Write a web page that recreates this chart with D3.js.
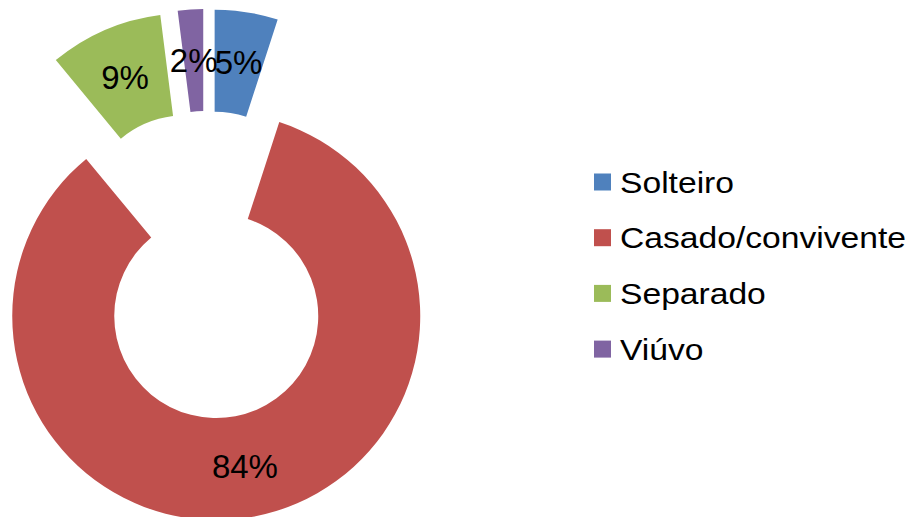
<!DOCTYPE html>
<html>
<head>
<meta charset="utf-8">
<script src="https://cdn.jsdelivr.net/npm/d3@7"></script>
<style>
  body { margin: 0; background: #fff; }
  svg text { font-family: "Liberation Sans", Arial, sans-serif; fill: #000; }
</style>
</head>
<body>
<script>
// estado civil - exploded doughnut
var categories = ["Solteiro", "Casado/convivente", "Separado", "Viúvo"];
var values = [5, 84, 9, 2];
var colors = ["#4F81BD", "#C0504D", "#9BBB59", "#8064A2"];

var data = categories.map(function(c, i) {
  return {"cat": c, "value": values[i], "color": colors[i]};
});

function chart(){
var width = 915,
    height = 517;

// donut centre, radii and how far each slice is pushed out
var cx = 206.5, cy = 265,
    innerR = 102, outerR = 204,
    explode = 52;

var svg = d3.select("body").append("svg")
    .attr("width", width)
    .attr("height", height);

var pie = d3.pie()
    .sort(null)
    .value(function(d) { return d.value; });

var arc = d3.arc()
    .innerRadius(innerR)
    .outerRadius(outerR);

var total = d3.sum(values);

var g = svg.append("g")
    .attr("transform", "translate(" + cx + "," + cy + ")");

var slice = g.selectAll(".slice")
    .data(pie(data))
    .enter()
      .append("g")
        .attr("class", "slice")
        .attr("transform", function(d) {
          var a = (d.startAngle + d.endAngle) / 2;
          return "translate(" + (explode * Math.sin(a)) + "," + (-explode * Math.cos(a)) + ")";
        });

slice.append("path")
    .attr("d", arc)
    .attr("fill", function(d) { return d.data.color; });

// percent labels at the arc centroid
slice.append("text")
    .attr("transform", function(d) { return "translate(" + arc.centroid(d) + ")"; })
    .attr("text-anchor", "middle")
    .attr("dy", "0.36em")
    .style("font-size", "33px")
    .text(function(d) { return Math.round(d.data.value / total * 100) + "%"; });

// legend
var legend = svg.append("g")
    .attr("transform", "translate(594,182)");

var item = legend.selectAll(".item")
    .data(data)
    .enter()
      .append("g")
        .attr("class", "item")
        .attr("transform", function(d, i) { return "translate(0," + (i * 55.7) + ")"; });

item.append("rect")
    .attr("x", 0)
    .attr("y", -8.5)
    .attr("width", 17)
    .attr("height", 17)
    .attr("fill", function(d) { return d.color; });

item.append("text")
    .attr("transform", "translate(26,10.5) scale(1.16,1)")
    .style("font-size", "29px")
    .text(function(d) { return d.cat; });
}

window.onload = chart();
</script>
</body>
</html>
